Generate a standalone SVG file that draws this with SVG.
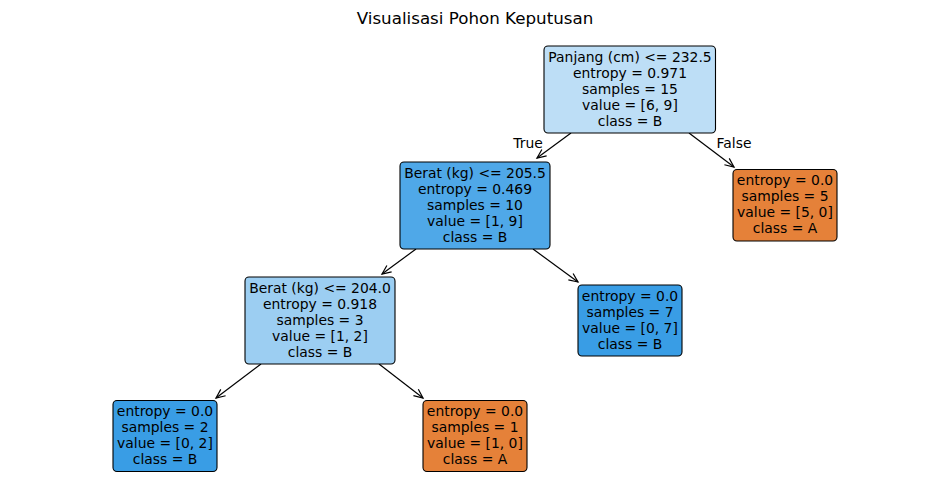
<svg xmlns="http://www.w3.org/2000/svg" width="950" height="504" viewBox="0 0 950 504">
<defs>
<marker id="arr" markerUnits="userSpaceOnUse" markerWidth="14" markerHeight="14" refX="10" refY="5" orient="auto" viewBox="0 0 14 10" overflow="visible">
<path d="M1,1 L10,5 L1,9" fill="none" stroke="#000" stroke-width="1.2"/>
</marker>
<style>
text{font-family:"DejaVu Sans","Liberation Sans",sans-serif;font-size:13.9px;fill:#000;text-anchor:middle}
.box{stroke:#000;stroke-width:1.1}
.edge{stroke:#000;stroke-width:1.2;fill:none;marker-end:url(#arr)}
.title{font-size:16.7px}
</style>
</defs>
<rect width="950" height="504" fill="#fff"/>
<text class="title" x="475" y="24">Visualisasi Pohon Keputusan</text>
<g id="edges">
<line class="edge" x1="571" y1="133" x2="537" y2="158"/>
<line class="edge" x1="689" y1="133" x2="734" y2="167"/>
<line class="edge" x1="416" y1="249" x2="382" y2="274"/>
<line class="edge" x1="533" y1="249" x2="578" y2="282"/>
<line class="edge" x1="261" y1="364" x2="216" y2="398"/>
<line class="edge" x1="379" y1="364" x2="423" y2="398"/>
<text x="528" y="148">True</text>
<text x="734" y="148">False</text>
</g>
<g id="node0">
<rect class="box" x="544" y="46" width="171.5" height="87" rx="4" fill="#bddef6"/>
<text x="630" y="62.3">Panjang (cm) &lt;= 232.5</text>
<text x="630" y="78.3">entropy = 0.971</text>
<text x="630" y="94.3">samples = 15</text>
<text x="630" y="110.3">value = [6, 9]</text>
<text x="630" y="126.3">class = B</text>
</g>
<g id="node1">
<rect class="box" x="400" y="162" width="150" height="87" rx="4" fill="#4fa8e8"/>
<text x="475" y="178">Berat (kg) &lt;= 205.5</text>
<text x="475" y="194">entropy = 0.469</text>
<text x="475" y="210">samples = 10</text>
<text x="475" y="226">value = [1, 9]</text>
<text x="475" y="242">class = B</text>
</g>
<g id="node2">
<rect class="box" x="733" y="169.5" width="104" height="71.5" rx="4" fill="#e58139"/>
<text x="785" y="185.3">entropy = 0.0</text>
<text x="785" y="201.3">samples = 5</text>
<text x="785" y="217.3">value = [5, 0]</text>
<text x="785" y="233.3">class = A</text>
</g>
<g id="node3">
<rect class="box" x="245" y="277" width="150" height="87" rx="4" fill="#9ccef2"/>
<text x="320" y="293">Berat (kg) &lt;= 204.0</text>
<text x="320" y="309">entropy = 0.918</text>
<text x="320" y="325">samples = 3</text>
<text x="320" y="341">value = [1, 2]</text>
<text x="320" y="357">class = B</text>
</g>
<g id="node4">
<rect class="box" x="578" y="285" width="104" height="71" rx="4" fill="#399de5"/>
<text x="630" y="300.8">entropy = 0.0</text>
<text x="630" y="316.8">samples = 7</text>
<text x="630" y="332.8">value = [0, 7]</text>
<text x="630" y="348.8">class = B</text>
</g>
<g id="node5">
<rect class="box" x="113" y="400.5" width="104" height="71" rx="4" fill="#399de5"/>
<text x="165" y="416.3">entropy = 0.0</text>
<text x="165" y="432.3">samples = 2</text>
<text x="165" y="448.3">value = [0, 2]</text>
<text x="165" y="464.3">class = B</text>
</g>
<g id="node6">
<rect class="box" x="423" y="400.5" width="104" height="71" rx="4" fill="#e58139"/>
<text x="475" y="416.3">entropy = 0.0</text>
<text x="475" y="432.3">samples = 1</text>
<text x="475" y="448.3">value = [1, 0]</text>
<text x="475" y="464.3">class = A</text>
</g>
</svg>
